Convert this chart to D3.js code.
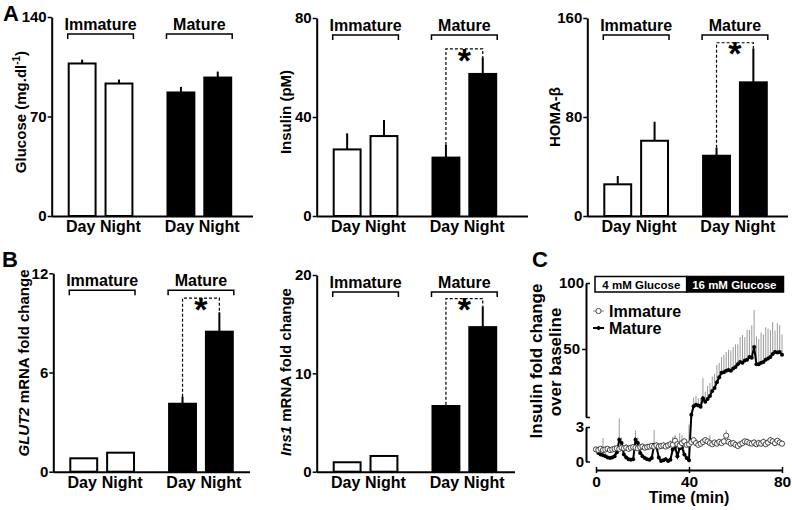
<!DOCTYPE html>
<html>
<head>
<meta charset="utf-8">
<script src="https://cdn.jsdelivr.net/npm/d3@7"></script>
<style>
  body { margin: 0; background: #fff; }
  svg { display: block; font-family: 'Liberation Sans', Arial, sans-serif; font-weight: bold; }
</style>
</head>
<body>
<svg id="fig" width="792" height="510"></svg>
<script>
const groups = ['Immature', 'Mature'];
const times = ['Day', 'Night'];

// bar values, order: Immature Day, Immature Night, Mature Day, Mature Night
const glucoseMean = [107.3, 93.2, 86.9, 97.4];
const glucoseSem = [2.7, 2.8, 3.9, 4.2];
const insulinMean = [26.9, 32.3, 23.6, 57.4];
const insulinSem = [6.5, 6.5, 5.1, 6.7];
const homaMean = [25.6, 60.8, 48.7, 108];
const homaSem = [6.7, 15.4, 6.5, 27.5];
const glut2Mean = [0.81, 1.15, 4.11, 8.47];
const glut2Sem = [0, 0, 0.43, 1.17];
const ins1Mean = [0.96, 1.6, 6.68, 14.7];
const ins1Sem = [0, 0, 0.12, 2.1];

// perifusion, one sample per minute
const minutes = d3.range(0, 81);
const immatureMean = [
  1.05, 1.0, 1.1, 1.0, 1.05, 1.1, 1.0, 1.05, 1.1, 1.15,
  1.1, 1.2, 1.15, 1.2, 1.1, 1.2, 1.25, 1.2, 1.15, 1.25,
  1.3, 1.2, 1.25, 1.3, 1.35, 1.3, 1.4, 1.3, 1.35, 1.4,
  1.3, 1.4, 1.5, 1.45, 1.8, 1.5, 1.4, 1.6, 1.75, 1.45,
  1.5, 1.7, 1.85, 1.6, 1.45, 1.55, 1.7, 1.85, 1.75, 1.6,
  1.5, 1.65, 1.55, 1.7, 1.6, 1.75, 2.25, 1.7, 1.55, 1.6,
  1.45, 1.35, 1.5, 1.6, 1.75, 1.7, 1.6, 1.55, 1.65, 1.5,
  1.6, 1.55, 1.7, 1.5, 1.65, 1.85, 1.75, 1.6, 1.8, 1.65, 1.55
];
const immatureSem = [
  0.2, 0.25, 0.2, 0.3, 0.2, 0.25, 0.2, 0.2, 0.3, 0.25,
  0.2, 0.25, 0.2, 0.3, 0.2, 0.2, 0.25, 0.2, 0.3, 0.2,
  0.25, 0.2, 0.3, 0.2, 0.25, 0.2, 0.3, 0.25, 0.2, 0.3,
  0.25, 0.3, 0.35, 0.3, 0.4, 0.3, 0.25, 0.35, 0.3, 0.3,
  0.25, 0.3, 0.25, 0.3, 0.25, 0.3, 0.35, 0.3, 0.25, 0.7,
  0.3, 0.25, 0.3, 0.25, 0.3, 0.3, 0.5, 0.3, 0.25, 0.3,
  0.25, 0.2, 0.25, 0.3, 0.25, 0.3, 0.25, 0.2, 0.3, 0.25,
  0.3, 0.25, 0.3, 0.2, 0.25, 0.3, 0.25, 0.3, 0.25, 0.3, 0.2
];
const matureMean = [
  1.0, 0.75, 0.6, 0.55, 0.45, 0.35, 0.3, 0.35, 0.45, 0.8,
  1.9, 1.6, 0.6, 0.35, 0.2, 0.15, 0.2, 1.9, 1.6, 0.75,
  0.45, 0.3, 0.2, 0.15, 0.3, 1.45, 1.3, 0.35, 0.05, 0.1,
  0.2, 0.05, 0.15, 1.05, 1.3, 0.45, 1.15, 1.2, 0.6, 0.3,
  0.1,
  4.5, 10.5, 11.5, 11, 10, 16, 13.5, 15.5, 17.5, 21,
  23, 27, 30.5, 33.5, 34, 35, 35.5, 35, 36.5, 37.5,
  39.5, 41, 40.5, 42, 42.5, 44.5, 44, 51.5, 39.5, 39.5,
  40.5, 41, 42.5, 43.5, 44.5, 46.5, 48, 47.5, 48, 46
];
const matureSem = [
  0.25, 0.3, 0.3, 1.5, 0.3, 0.25, 0.2, 0.2, 0.3, 0.4,
  1.85, 0.5, 0.3, 0.2, 0.2, 0.2, 0.2, 0.8, 0.5, 0.3,
  0.3, 0.2, 0.2, 0.2, 0.3, 1.3, 0.4, 0.2, 0.2, 0.2,
  0.2, 0.2, 0.3, 1.1, 1.0, 0.4, 1.3, 1.1, 0.4, 0.3,
  3.1,
  3, 6, 6, 5, 6, 14, 7, 9, 9, 10,
  10, 12, 10, 11, 12, 13, 14, 14, 15, 16,
  14, 18, 20, 17, 22, 20, 24, 28, 20, 18,
  22, 20, 24, 22, 20, 24, 16, 22, 20, 15
];

const svg = d3.select('#fig');

const barPanel = p => {
    const g = svg.append('g');
    const y = d3.scaleLinear().domain([0, p.max]).range([p.bottom, p.top]);
    const xg = d3.scaleBand().domain(groups).range([p.ax + 17, p.ax + 179.5]).paddingInner(0.355);
    const xb = d3.scaleBand().domain(times).range([0, xg.bandwidth()]).paddingInner(0.27);
    const rows = p.mean.map((m, i) => ({
        group: groups[Math.floor(i / 2)], time: times[i % 2], mean: m, sem: p.sem[i]
    }));
    const bx = d => xg(d.group) + xb(d.time);
    const cx = d => bx(d) + xb.bandwidth() / 2;

    g.append('line')
        .attr('x1', p.ax).attr('x2', p.right)
        .attr('y1', p.bottom + 0.5).attr('y2', p.bottom + 0.5)
        .attr('stroke', '#000').attr('stroke-width', 2);

    const axis = g.append('g')
        .attr('transform', `translate(${p.ax},0)`)
        .call(d3.axisLeft(y).tickValues(p.ticks).tickSize(4).tickSizeOuter(0).tickPadding(1));
    axis.attr('font-family', null).attr('font-size', 15);
    axis.select('.domain').attr('stroke-width', 2);
    axis.selectAll('.tick line').attr('stroke-width', 1.5);

    g.selectAll('rect.bar').data(rows).join('rect')
        .attr('class', 'bar')
        .attr('x', bx)
        .attr('y', d => y(d.mean))
        .attr('width', xb.bandwidth())
        .attr('height', d => p.bottom - y(d.mean))
        .attr('fill', d => d.group === 'Mature' ? '#000' : '#fff')
        .attr('stroke', '#000').attr('stroke-width', 2);

    g.selectAll('line.err').data(rows.filter(d => d.sem > 0)).join('line')
        .attr('class', 'err')
        .attr('x1', cx).attr('x2', cx)
        .attr('y1', d => y(d.mean)).attr('y2', d => y(d.mean + d.sem))
        .attr('stroke', '#000').attr('stroke-width', 2);

    g.selectAll('text.cat').data(rows).join('text')
        .attr('class', 'cat')
        .attr('x', d => cx(d) + (d.time === 'Night' ? 1.5 : -1.5))
        .attr('y', p.bottom + 16)
        .attr('text-anchor', 'middle').attr('font-size', 16)
        .text(d => d.time);

    // group brackets
    const yb = p.top + 17;
    groups.forEach(gr => {
        const x0 = xg(gr) - 1, x1 = xg(gr) + xg.bandwidth() + 1;
        g.append('path')
            .attr('d', `M${x0},${yb + 5}V${yb}H${x1}V${yb + 5}`)
            .attr('fill', 'none').attr('stroke', '#000').attr('stroke-width', 1.5);
        g.append('text')
            .attr('x', (x0 + x1) / 2).attr('y', yb - 4.5)
            .attr('text-anchor', 'middle').attr('font-size', 16)
            .text(gr);
    });

    if (p.sig != null) {
        const d = rows[2], n = rows[3];
        const ys = y(p.sig);
        g.append('path')
            .attr('d', `M${cx(d)},${y(d.mean + d.sem)}V${ys}H${cx(n)}V${y(n.mean + n.sem)}`)
            .attr('fill', 'none').attr('stroke', '#000')
            .attr('stroke-width', 1.2).attr('stroke-dasharray', '3,2');
        g.append('text')
            .attr('x', (cx(d) + cx(n)) / 2).attr('y', ys + 3 + 0.58 * 34)
            .attr('text-anchor', 'middle').attr('font-size', 34)
            .text('*');
    }

    const t = g.append('text')
        .attr('transform', `translate(${p.tx},${p.ty}) rotate(-90)`)
        .attr('text-anchor', 'middle').attr('font-size', 15);
    let prevSup = false;
    p.title.forEach(([s, st]) => {
        const ts = t.append('tspan').text(s);
        if (st === 'it') ts.attr('font-style', 'italic');
        if (st === 'sup') ts.attr('dy', -6).attr('font-size', 10);
        if (prevSup) ts.attr('dy', 6);
        prevSup = st === 'sup';
    });
};

barPanel({ax: 51.7, top: 17, bottom: 216, right: 253, max: 140, ticks: [0, 70, 140],
    mean: glucoseMean, sem: glucoseSem, sig: null,
    title: [['Glucose (mg.dl'], ['-1', 'sup'], [')']], tx: 26, ty: 112});
barPanel({ax: 316.7, top: 18, bottom: 216, right: 528, max: 80, ticks: [0, 40, 80],
    mean: insulinMean, sem: insulinSem, sig: 67.5,
    title: [['Insulin (pM)']], tx: 291, ty: 112});
barPanel({ax: 587.3, top: 18, bottom: 216, right: 788, max: 160, ticks: [0, 80, 160],
    mean: homaMean, sem: homaSem, sig: 140,
    title: [['HOMA-β']], tx: 560, ty: 117});
barPanel({ax: 53.3, top: 273.3, bottom: 471.7, right: 250, max: 12, ticks: [0, 6, 12],
    mean: glut2Mean, sem: glut2Sem, sig: 10.5,
    title: [['GLUT2', 'it'], [' mRNA fold change']], tx: 29, ty: 363});
barPanel({ax: 316.7, top: 275, bottom: 471.7, right: 515, max: 20, ticks: [0, 10, 20],
    mean: ins1Mean, sem: ins1Sem, sig: 17.6,
    title: [['Ins1', 'it'], [' mRNA fold change']], tx: 291, ty: 372});

// panel C, broken y axis
const xC = d3.scaleLinear().domain([0, 80]).range([596, 782]);
const yLow = d3.scaleLinear().domain([0, 3]).range([461.5, 427]);
const yUp = d3.scaleLinear().domain([3, 50, 100]).range([417, 349, 283]);
const yC = v => v > 3 ? yUp(v) : yLow(v);
const yErr = (m, s) => m > 3 ? yUp(m + s) : yLow(m + s);
const axC = 586;
const gc = svg.append('g');

[[yUp, [3, 50, 100], d => d === 3 ? '' : d], [yLow, [0, 3], d => d]].forEach(([sc, tv, fmt]) => {
    const a = gc.append('g')
        .attr('transform', `translate(${axC},0)`)
        .call(d3.axisLeft(sc).tickValues(tv).tickFormat(fmt).tickSize(4).tickSizeOuter(0));
    a.attr('font-family', null).attr('font-size', 15);
    a.select('.domain').attr('stroke-width', 2);
    a.selectAll('.tick line').attr('stroke-width', 1.5).attr('x2', d => d === 50 ? -4 : 4);
    a.selectAll('.tick text').attr('x', d => d === 50 ? -6 : -2);
});

const xa = gc.append('g')
    .attr('transform', 'translate(0,470)')
    .call(d3.axisBottom(xC).tickValues([0, 40, 80]).tickSize(3).tickPadding(3).tickSizeOuter(0));
xa.attr('font-family', null).attr('font-size', 15.5);
xa.select('.domain').attr('stroke-width', 2);
xa.selectAll('.tick line').attr('stroke-width', 1.5).attr('y1', -3);

gc.append('text').attr('x', xC(40)).attr('y', 503)
    .attr('text-anchor', 'middle').attr('font-size', 16).text('Time (min)');
gc.append('text').attr('transform', 'translate(542,361) rotate(-90)')
    .attr('text-anchor', 'middle').attr('font-size', 17).text('Insulin fold change');
gc.append('text').attr('transform', 'translate(561,362) rotate(-90)')
    .attr('text-anchor', 'middle').attr('font-size', 17).text('over baseline');

// glucose condition boxes
const boxSplit = xC(39);
gc.append('rect').attr('x', xC(0) - 1).attr('y', 276.5)
    .attr('width', boxSplit - xC(0) + 1).attr('height', 15.5)
    .attr('fill', '#fff').attr('stroke', '#000').attr('stroke-width', 1.5);
gc.append('rect').attr('x', boxSplit).attr('y', 276.5)
    .attr('width', xC(80) + 1.5 - boxSplit).attr('height', 15.5)
    .attr('fill', '#000').attr('stroke', '#000').attr('stroke-width', 1.5);
gc.append('text').attr('x', (xC(0) + boxSplit) / 2).attr('y', 288.5)
    .attr('text-anchor', 'middle').attr('font-size', 11.5).text('4 mM Glucose');
gc.append('text').attr('x', (boxSplit + xC(80)) / 2).attr('y', 288.5)
    .attr('text-anchor', 'middle').attr('font-size', 11.5).attr('fill', '#fff').text('16 mM Glucose');

const series = [
    {name: 'Mature', mean: matureMean, sem: matureSem},
    {name: 'Immature', mean: immatureMean, sem: immatureSem}
];

series.forEach(s => {
    gc.append('g').selectAll('line').data(s.mean).join('line')
        .attr('x1', (d, i) => xC(minutes[i])).attr('x2', (d, i) => xC(minutes[i]))
        .attr('y1', d => yC(d)).attr('y2', (d, i) => yErr(d, s.sem[i]))
        .attr('stroke', '#9a9a9a').attr('stroke-width', 1);
});

series.forEach(s => {
    const mature = s.name === 'Mature';
    const line = d3.line().x((d, i) => xC(minutes[i])).y(d => yC(d));
    gc.append('path').datum(s.mean)
        .attr('d', line).attr('fill', 'none')
        .attr('stroke', mature ? '#000' : '#888')
        .attr('stroke-width', mature ? 2 : 1);
    gc.append('g').selectAll('circle').data(s.mean).join('circle')
        .attr('cx', (d, i) => xC(minutes[i])).attr('cy', d => yC(d))
        .attr('r', mature ? 2 : 2.6)
        .attr('fill', mature ? '#000' : '#fff')
        .attr('stroke', mature ? 'none' : '#333').attr('stroke-width', 0.9);
});

// legend
[['Immature', 311], ['Mature', 328]].forEach(([name, ly]) => {
    const mature = name === 'Mature';
    gc.append('line').attr('x1', 593).attr('x2', 604).attr('y1', ly).attr('y2', ly)
        .attr('stroke', mature ? '#000' : '#888').attr('stroke-width', mature ? 2 : 1);
    gc.append('circle').attr('cx', 598.5).attr('cy', ly).attr('r', mature ? 2 : 2.6)
        .attr('fill', mature ? '#000' : '#fff')
        .attr('stroke', mature ? 'none' : '#333').attr('stroke-width', 0.9);
    gc.append('text').attr('x', 609).attr('y', ly + 6).attr('font-size', 16).text(name);
});

// panel letters
[['A', 3, 21], ['B', 2, 267], ['C', 532, 267]].forEach(([l, x, y]) => {
    svg.append('text').attr('x', x).attr('y', y).attr('font-size', 22).text(l);
});
</script>
</body>
</html>
